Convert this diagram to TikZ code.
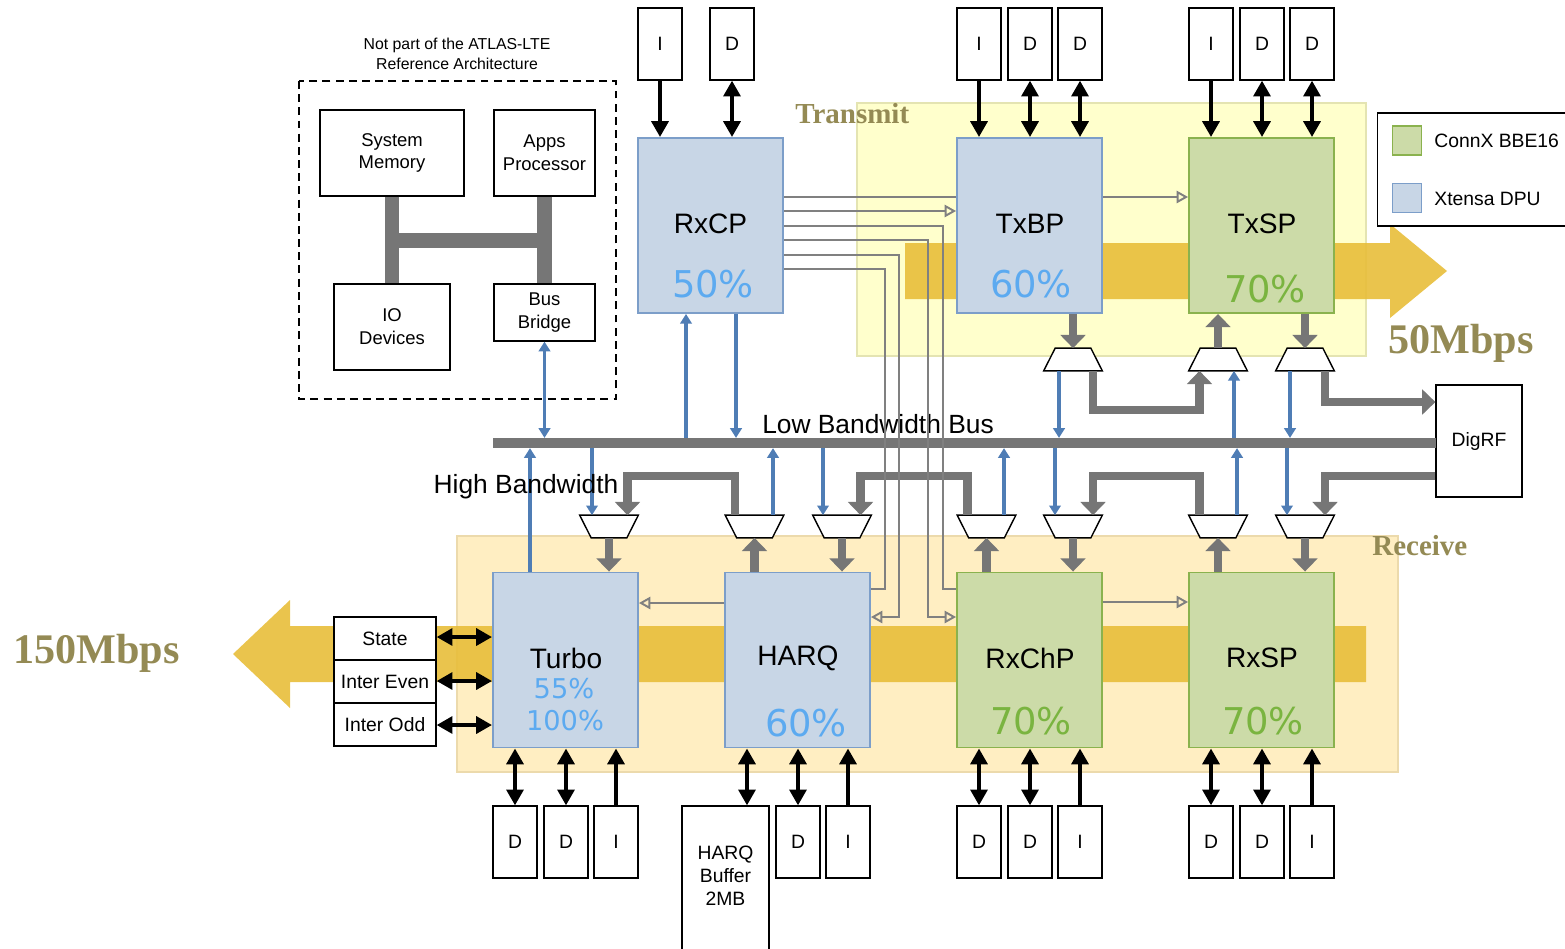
\documentclass[tikz,border=0pt]{standalone}
\usepackage{fontspec}
\setmainfont{Liberation Sans}
\newfontfamily\mbpsfont{Liberation Serif}
\newfontfamily\pctfont{DejaVu Sans}
\usetikzlibrary{arrows.meta}
\definecolor{dpufill}{RGB}{200,214,230}
\definecolor{dpuline}{RGB}{124,158,201}
\definecolor{bbefill}{RGB}{204,219,168}
\definecolor{bbeline}{RGB}{138,178,78}
\definecolor{dpupct}{RGB}{92,170,240}
\definecolor{bbepct}{RGB}{122,180,64}
\definecolor{txzoneclr}{RGB}{255,255,204}
\definecolor{rxzoneclr}{RGB}{255,238,194}
\definecolor{goldclr}{RGB}{232,190,58}
\definecolor{busgray}{RGB}{118,118,118}
\definecolor{wiregray}{RGB}{128,128,128}
\definecolor{linkblue}{RGB}{79,125,181}
\definecolor{mbpsolive}{RGB}{148,138,84}
\begin{document}
\begin{tikzpicture}[x=0.02cm, y=-0.02cm,
  % Processor styles (legend colours)
  xtensa/.style={rectangle, draw=dpuline, fill=dpufill, line width=1.1pt, minimum width=2.9cm, minimum height=3.5cm, inner sep=0pt},
  connx/.style={rectangle, draw=bbeline, fill=bbefill, line width=1.1pt, minimum width=2.9cm, minimum height=3.5cm, inner sep=0pt},
  procname/.style={font=\fontsize{16}{19}\selectfont},
  dpuload/.style={font=\pctfont\fontsize{21}{24}\selectfont, text=dpupct},
  bbeload/.style={font=\pctfont\fontsize{21}{24}\selectfont, text=bbepct},
  % Memory and host boxes
  membox/.style={rectangle, draw=black, fill=white, line width=0.7pt, minimum width=0.88cm, minimum height=1.44cm, inner sep=0pt, font=\fontsize{11}{13}\selectfont},
  plainbox/.style={rectangle, draw=black, fill=white, line width=0.7pt, inner sep=0pt, align=center, font=\fontsize{10.5}{13}\selectfont},
  % Multiplexers (trapezoid drawn over the node area)
  muxspot/.style={rectangle, minimum width=1.16cm, minimum height=0.44cm, inner sep=0pt},
  muxline/.style={draw=black, fill=white, line width=0.8pt},
  % Arrow styles
  fatarrow/.style={draw=busgray, line width=5pt, -{Triangle[length=7.5pt,width=14pt]}},
  fatbar/.style={draw=busgray, line width=8pt},
  linkarrow/.style={draw=linkblue, line width=2pt, -{Triangle[length=5.5pt,width=6.5pt]}},
  linkdual/.style={draw=linkblue, line width=2pt, {Triangle[length=5.5pt,width=6.5pt]}-{Triangle[length=5.5pt,width=6.5pt]}},
  memarrow/.style={draw=black, line width=2.3pt, -{Triangle[length=9pt,width=9.5pt]}},
  memdual/.style={draw=black, line width=2.3pt, {Triangle[length=9pt,width=9.5pt]}-{Triangle[length=9pt,width=9.5pt]}},
  wire/.style={draw=wiregray, line width=1.1pt},
  wirearrow/.style={wire, -{Triangle[open,length=6.5pt,width=7pt]}},
  % Zones and throughput labels
  zonename/.style={font=\mbpsfont\bfseries\fontsize{16.5}{19}\selectfont, text=mbpsolive, anchor=base west, inner sep=0pt},
  ratename/.style={font=\mbpsfont\bfseries\fontsize{24}{28}\selectfont, text=mbpsolive, anchor=base west, inner sep=0pt}
]
\useasboundingbox (0,0) rectangle (1565,948);

% Layer 1: Transmit / Receive zones and data flow arrows
\draw[fill=txzoneclr, draw={rgb,255:red,228;green,228;blue,178}, line width=0.6pt] (857,103) rectangle (1366,356);
\draw[fill=rxzoneclr, draw={rgb,255:red,236;green,218;blue,172}, line width=0.6pt] (457,536) rectangle (1398,772);
\fill[goldclr, fill opacity=0.9] (905,243) -- (1390,243) -- (1390,224) -- (1447,271) -- (1390,318) -- (1390,299) -- (905,299) -- cycle;
\fill[goldclr, fill opacity=0.9] (1366,626) -- (290,626) -- (290,600) -- (233,654) -- (290,708) -- (290,682) -- (1366,682) -- cycle;

\node[zonename] (txzonelabel) at (795,123) {Transmit};
\node[zonename] (rxzonelabel) at (1372,555) {Receive};
\node[ratename] (txrate) at (1388,353) {50Mbps};
\node[ratename] (rxrate) at (13,663) {150Mbps};

% Layer 2: Host side (not part of the reference architecture)
\node[font=\fontsize{9}{11.3}\selectfont, align=center] (hostnote) at (457,54) {Not part of the ATLAS-LTE\\Reference Architecture};
\draw[dashed, dash pattern=on 4.5pt off 3pt, line width=1.1pt] (299,81) rectangle (616,399);
\node[plainbox, minimum width=2.88cm, minimum height=1.72cm] (sysmem) at (392,153) {System\\Memory};
\node[plainbox, minimum width=2.02cm, minimum height=1.72cm] (apps) at (544.5,153) {Apps\\Processor};
\node[plainbox, minimum width=2.32cm, minimum height=1.72cm] (iodev) at (392,327) {IO\\Devices};
\node[plainbox, minimum width=2.02cm, minimum height=1.14cm] (bridge) at (544.5,312.5) {Bus\\Bridge};
\draw[fatbar] (sysmem.south) -- (iodev.north);
\draw[fatbar] (apps.south) -- (bridge.north);
\draw[fatbar] (sysmem.south |- 0,240.5) -- (apps.south |- 0,240.5);

% Layer 3: Processors
\node[xtensa] (rxcp) at (710.5,225.5) {};
\node[xtensa] (txbp) at (1029.5,225.5) {};
\node[connx] (txsp) at (1261.5,225.5) {};
\node[xtensa] (turbo) at (565.5,660) {};
\node[xtensa] (harq) at (797.5,660) {};
\node[connx] (rxchp) at (1029.5,660) {};
\node[connx] (rxsp) at (1261.5,660) {};

\node[procname] (rxcpname) at (710.5,224) {RxCP};
\node[procname] (txbpname) at (1030,224) {TxBP};
\node[procname] (txspname) at (1262,224) {TxSP};
\node[procname] (turboname) at (566,658) {Turbo};
\node[procname] (harqname) at (798,658) {HARQ};
\node[procname] (rxchpname) at (1030,658) {RxChP};
\node[procname] (rxspname) at (1262,658) {RxSP};

\node[dpuload] (rxcpload) at (713,284) {50\%};
\node[dpuload] (txbpload) at (1031,284) {60\%};
\node[bbeload] (txspload) at (1265,289) {70\%};
\node[dpuload, font=\pctfont\fontsize{15.5}{18}\selectfont] (turboload) at (564,689) {55\%};
\node[dpuload, font=\pctfont\fontsize{15.5}{18}\selectfont] (turbopeak) at (565,721) {100\%};
\node[dpuload] (harqload) at (806,723) {60\%};
\node[bbeload] (rxchpload) at (1031,721) {70\%};
\node[bbeload] (rxspload) at (1263,721) {70\%};

% Layer 4: Local memories
\node[membox] (rxcpi) at (660,44) {I};
\node[membox] (rxcpd) at (732,44) {D};
\node[membox] (txbpi) at (979,44) {I};
\node[membox] (txbpd1) at (1030,44) {D};
\node[membox] (txbpd2) at (1080,44) {D};
\node[membox] (txspi) at (1211,44) {I};
\node[membox] (txspd1) at (1262,44) {D};
\node[membox] (txspd2) at (1312,44) {D};
\node[membox] (turbod1) at (515,842) {D};
\node[membox] (turbod2) at (566,842) {D};
\node[membox] (turboi) at (616,842) {I};
\node[plainbox, minimum width=1.74cm, minimum height=3.2cm] (harqbuf) at (725.5,886) {};
\node[align=center, font=\fontsize{11}{13}\selectfont] (harqbuftext) at (725.5,876) {HARQ\\Buffer\\2MB};
\node[membox] (harqd) at (798,842) {D};
\node[membox] (harqi) at (848,842) {I};
\node[membox] (rxchpd1) at (979,842) {D};
\node[membox] (rxchpd2) at (1030,842) {D};
\node[membox] (rxchpi) at (1080,842) {I};
\node[membox] (rxspd1) at (1211,842) {D};
\node[membox] (rxspd2) at (1262,842) {D};
\node[membox] (rxspi) at (1312,842) {I};

\draw[memarrow] (rxcpi.south) -- (rxcpi.south |- rxcp.north);
\draw[memdual] (rxcpd.south) -- (rxcpd.south |- rxcp.north);
\draw[memarrow] (txbpi.south) -- (txbpi.south |- txbp.north);
\draw[memdual] (txbpd1.south) -- (txbpd1.south |- txbp.north);
\draw[memdual] (txbpd2.south) -- (txbpd2.south |- txbp.north);
\draw[memarrow] (txspi.south) -- (txspi.south |- txsp.north);
\draw[memdual] (txspd1.south) -- (txspd1.south |- txsp.north);
\draw[memdual] (txspd2.south) -- (txspd2.south |- txsp.north);
\draw[memdual] (turbod1.north) -- (turbod1.north |- turbo.south);
\draw[memdual] (turbod2.north) -- (turbod2.north |- turbo.south);
\draw[memarrow] (turboi.north) -- (turboi.north |- turbo.south);
\draw[memdual] (747,0 |- harqbuf.north) -- (747,0 |- harq.south);
\draw[memdual] (harqd.north) -- (harqd.north |- harq.south);
\draw[memarrow] (harqi.north) -- (harqi.north |- harq.south);
\draw[memdual] (rxchpd1.north) -- (rxchpd1.north |- rxchp.south);
\draw[memdual] (rxchpd2.north) -- (rxchpd2.north |- rxchp.south);
\draw[memarrow] (rxchpi.north) -- (rxchpi.north |- rxchp.south);
\draw[memdual] (rxspd1.north) -- (rxspd1.north |- rxsp.south);
\draw[memdual] (rxspd2.north) -- (rxspd2.north |- rxsp.south);
\draw[memarrow] (rxspi.north) -- (rxspi.north |- rxsp.south);

% Turbo side buffers
\node[plainbox, minimum width=2.04cm, minimum height=0.86cm, font=\fontsize{11}{13}\selectfont] (statebuf) at (385,638.5) {State};
\node[plainbox, minimum width=2.04cm, minimum height=0.86cm, font=\fontsize{11}{13}\selectfont] (evenbuf) at (385,681.5) {Inter Even};
\node[plainbox, minimum width=2.04cm, minimum height=0.86cm, font=\fontsize{11}{13}\selectfont] (oddbuf) at (385,724.5) {Inter Odd};
\draw[memdual] (statebuf.east |- 0,637) -- (turbo.west |- 0,637);
\draw[memdual] (evenbuf.east |- 0,681) -- (turbo.west |- 0,681);
\draw[memdual] (oddbuf.east |- 0,725) -- (turbo.west |- 0,725);

% Layer 5: Low bandwidth bus, DigRF and legend
\node[plainbox, minimum width=1.72cm, minimum height=2.24cm, font=\fontsize{11}{13}\selectfont] (digrf) at (1479,441) {DigRF};
\node[rectangle, fill=busgray, minimum width=18.86cm, minimum height=0.19cm, inner sep=0pt] (bus) at (964.5,443) {};
\node[font=\fontsize{15}{18}\selectfont] (lowbuslabel) at (878,424) {Low Bandwidth Bus};

\node[rectangle, draw=black, fill=white, line width=0.8pt, minimum width=3.96cm, minimum height=2.26cm] (legend) at (1476.5,169.5) {};
\node[rectangle, draw=bbeline, fill=bbefill, line width=1.1pt, minimum width=0.58cm, minimum height=0.58cm] (connxkey) at (1407,140.5) {};
\node[rectangle, draw=dpuline, fill=dpufill, line width=1.1pt, minimum width=0.58cm, minimum height=0.58cm] (xtensakey) at (1407,198) {};
\node[anchor=west, inner sep=0pt, font=\fontsize{11}{13}\selectfont] (connxtext) at (1434,141) {ConnX BBE16};
\node[anchor=west, inner sep=0pt, font=\fontsize{11}{13}\selectfont] (xtensatext) at (1434,199) {Xtensa DPU};

% Layer 6: Multiplexers
\node[muxspot] (txmux1) at (1073,359.5) {};
\node[muxspot] (txmux2) at (1218,359.5) {};
\node[muxspot] (txmux3) at (1305,359.5) {};
\node[muxspot] (rxmux1) at (609,526.5) {};
\node[muxspot] (rxmux2) at (754.5,526.5) {};
\node[muxspot] (rxmux3) at (842,526.5) {};
\node[muxspot] (rxmux4) at (986.5,526.5) {};
\node[muxspot] (rxmux5) at (1073,526.5) {};
\node[muxspot] (rxmux6) at (1218,526.5) {};
\node[muxspot] (rxmux7) at (1305,526.5) {};
\foreach \m in {txmux1,txmux2,txmux3}
  \draw[muxline] (\m.south west) -- (\m.south east) -- ([xshift=-2.3mm]\m.north east) -- ([xshift=2.3mm]\m.north west) -- cycle;
\foreach \m in {rxmux1,rxmux2,rxmux3,rxmux4,rxmux5,rxmux6,rxmux7}
  \draw[muxline] (\m.north west) -- (\m.north east) -- ([xshift=-2.3mm]\m.south east) -- ([xshift=2.3mm]\m.south west) -- cycle;

% Transmit side wide paths
\draw[fatarrow] (txbp.south -| txmux1) -- (txmux1.north);
\draw[fatarrow] (1093,0 |- txmux1.south) -- (1093,410) -| (1199.5,0 |- txmux2.south);
\draw[fatarrow] (txmux2.north) -- (txmux2.north |- txsp.south);
\draw[fatarrow] (txsp.south -| txmux3) -- (txmux3.north);
\draw[fatarrow] (1325,0 |- txmux3.south) |- (digrf.west |- 0,402);

% Receive side wide paths
\draw[fatarrow] (rxmux1.south) -- (rxmux1.south |- turbo.north);
\draw[fatarrow] (rxmux2.south |- harq.north) -- (rxmux2.south);
\draw[fatarrow] (735,0 |- rxmux2.north) -- (735,476) -| (627.5,0 |- rxmux1.north);
\draw[fatarrow] (rxmux3.south) -- (rxmux3.south |- harq.north);
\draw[fatarrow] (rxmux4.south |- rxchp.north) -- (rxmux4.south);
\draw[fatarrow] (967.5,0 |- rxmux4.north) -- (967.5,476) -| (860.5,0 |- rxmux3.north);
\draw[fatarrow] (rxmux5.south) -- (rxmux5.south |- rxchp.north);
\draw[fatarrow] (rxmux6.south |- rxsp.north) -- (rxmux6.south);
\draw[fatarrow] (1199.5,0 |- rxmux6.north) -- (1199.5,476) -| (1093,0 |- rxmux5.north);
\draw[fatarrow] (rxmux7.south) -- (rxmux7.south |- rxsp.north);
\draw[fatarrow] (digrf.west |- 0,476) -| (1325,0 |- rxmux7.north);

% Bus links
\draw[linkdual] (bridge.south) -- (bridge.south |- bus.north);
\draw[linkarrow] (686,0 |- bus.north) -- (686,0 |- rxcp.south);
\draw[linkarrow] (736,0 |- rxcp.south) -- (736,0 |- bus.north);
\draw[linkarrow] (1059,0 |- txmux1.south) -- (1059,0 |- bus.north);
\draw[linkarrow] (1234,0 |- bus.north) -- (1234,0 |- txmux2.south);
\draw[linkarrow] (1290,0 |- txmux3.south) -- (1290,0 |- bus.north);
\draw[linkarrow] (530,0 |- turbo.north) -- (530,0 |- bus.south);
\draw[linkarrow] (592,0 |- bus.south) -- (592,0 |- rxmux1.north);
\draw[linkarrow] (773,0 |- rxmux2.north) -- (773,0 |- bus.south);
\draw[linkarrow] (823,0 |- bus.south) -- (823,0 |- rxmux3.north);
\draw[linkarrow] (1004,0 |- rxmux4.north) -- (1004,0 |- bus.south);
\draw[linkarrow] (1055,0 |- bus.south) -- (1055,0 |- rxmux5.north);
\draw[linkarrow] (1237,0 |- rxmux6.north) -- (1237,0 |- bus.south);
\draw[linkarrow] (1287,0 |- bus.south) -- (1287,0 |- rxmux7.north);

% Layer 7: Processor to processor wires
\draw[wire] (rxcp.east |- 0,197) -- (txbp.west |- 0,197);
\draw[wirearrow] (rxcp.east |- 0,211) -- (txbp.west |- 0,211);
\draw[wire] (rxcp.east |- 0,226) -| (943,589) -- (rxchp.west |- 0,589);
\draw[wirearrow] (rxcp.east |- 0,240) -| (928,617) -- (rxchp.west |- 0,617);
\draw[wirearrow] (rxcp.east |- 0,255) -| (899,617) -- (harq.east |- 0,617);
\draw[wire] (rxcp.east |- 0,269) -| (885,589) -- (harq.east |- 0,589);
\draw[wirearrow] (txbp.east |- 0,197) -- (txsp.west |- 0,197);
\draw[wirearrow] (harq.west |- 0,603) -- (turbo.east |- 0,603);
\draw[wirearrow] (rxchp.east |- 0,602) -- (rxsp.west |- 0,602);

\node[font=\fontsize{15}{18}\selectfont] (highbwlabel) at (526,487) {High Bandwidth};

\end{tikzpicture}
\end{document}
